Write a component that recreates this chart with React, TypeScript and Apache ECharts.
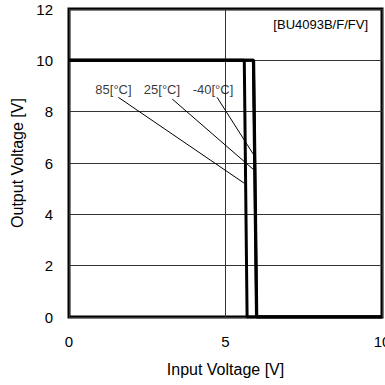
import React, { useEffect, useRef } from "react";
import * as echarts from "echarts";

const xTicks = [0, 5, 10];
const yTicks = [0, 2, 4, 6, 8, 10, 12];
const curve85: [number, number][] = [[0, 10], [5.6, 10], [5.69, 0], [10, 0]];
const curve25: [number, number][] = [[0, 10], [5.89, 10], [5.99, 0], [10, 0]];
const curveM40: [number, number][] = [[0, 10], [5.9, 10], [6.0, 0], [10, 0]];
const tempLabels = ["85[°C]", "25[°C]", "-40[°C]"];
const labelPos: [number, number][] = [[1.42, 8.88], [2.97, 8.88], [4.6, 8.88]];
const leader85: [number, number][] = [[1.575, 8.56], [5.59, 5.22]];
const leader25: [number, number][] = [[3.3, 8.49], [5.89, 5.75]];
const leaderM40: [number, number][] = [[4.73, 8.56], [5.89, 6.34]];
const partName = "[BU4093B/F/FV]";

export default function App() {
  const ref = useRef<HTMLDivElement>(null);
  useEffect(() => {
    if (!ref.current) return;
    const chart = echarts.init(ref.current, undefined, { renderer: "svg" });
    const font = "Liberation Sans, Arial, sans-serif";
    const curveStyle = { color: "#000", width: 3 };
    const leaderStyle = { color: "#000", width: 1 };
    chart.setOption({
      animation: false,
      backgroundColor: "#fff",
      textStyle: { fontFamily: font },
      grid: {
        left: 69,
        right: 3,
        top: 9,
        bottom: 68,
        show: true,
        borderColor: "#000",
        borderWidth: 3,
        containLabel: false,
        outerBoundsMode: "none",
      },
      title: {
        text: partName,
        right: 12,
        top: 13,
        textStyle: { fontFamily: font, fontSize: 13, fontWeight: "normal", color: "#000" },
      },
      xAxis: {
        type: "value",
        min: xTicks[0],
        max: xTicks[xTicks.length - 1],
        interval: 5,
        name: "Input Voltage [V]",
        nameLocation: "middle",
        nameGap: 44,
        nameTextStyle: { fontFamily: font, fontSize: 16, color: "#000" },
        axisLine: { show: false },
        axisTick: { show: false },
        axisLabel: {
          fontFamily: font,
          fontSize: 15,
          color: "#000",
          margin: 17,
          alignMinLabel: "center",
          alignMaxLabel: "center",
          hideOverlap: false,
        },
        splitLine: { show: true, lineStyle: { color: "#333", width: 1 } },
      },
      yAxis: {
        type: "value",
        min: yTicks[0],
        max: yTicks[yTicks.length - 1],
        interval: 2,
        name: "Output Voltage [V]",
        nameLocation: "middle",
        nameGap: 43,
        nameTextStyle: { fontFamily: font, fontSize: 16, color: "#000" },
        axisLine: { show: false },
        axisTick: { show: false },
        axisLabel: {
          fontFamily: font,
          fontSize: 15,
          color: "#000",
          margin: 16,
          verticalAlignMinLabel: "middle",
          verticalAlignMaxLabel: "middle",
          hideOverlap: false,
        },
        splitLine: { show: true, lineStyle: { color: "#333", width: 1 } },
      },
      series: [
        { type: "line", data: curve85, symbol: "none", lineStyle: curveStyle },
        { type: "line", data: curve25, symbol: "none", lineStyle: curveStyle },
        { type: "line", data: curveM40, symbol: "none", lineStyle: curveStyle },
        { type: "line", data: leader85, symbol: "none", lineStyle: leaderStyle },
        { type: "line", data: leader25, symbol: "none", lineStyle: leaderStyle },
        { type: "line", data: leaderM40, symbol: "none", lineStyle: leaderStyle },
        {
          type: "scatter",
          symbolSize: 0,
          data: labelPos.map((p, i) => ({ value: p, name: tempLabels[i] })),
          label: {
            show: true,
            position: "inside",
            formatter: (p: any) => p.name,
            fontFamily: font,
            fontSize: 13,
            color: "#000",
          },
        },
      ],
    });
    return () => chart.dispose();
  }, []);
  return (
    <div
      ref={ref}
      style={{ position: "absolute", left: 0, top: 0, width: 385, height: 385 }}
    />
  );
}
